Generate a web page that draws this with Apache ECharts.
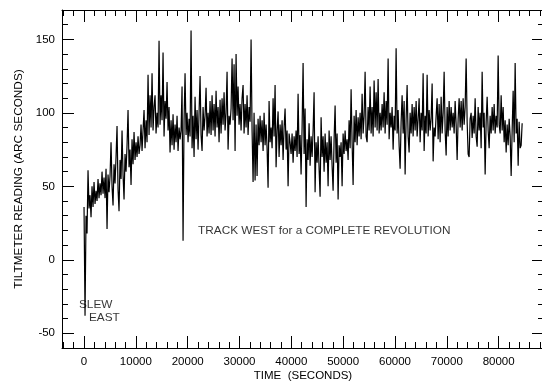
<!DOCTYPE html>
<html>
<head>
<meta charset="utf-8">
<script src="https://cdn.jsdelivr.net/npm/echarts@6/dist/echarts.min.js"></script>
<style>
  html, body { margin: 0; padding: 0; background: #fff; }
  #chart { width: 542px; height: 383px; }
</style>
</head>
<body>
<div id="chart"></div>
<script>
// tiltmeter readings (arc seconds), one every ~193 s from t = 0
var sampleStep = 193;
var tiltReadings = [
  36, -38, 30, 18, 61, 35,
  44, 29, 50, 36, 53, 38, 47, 40, 55, 42, 52,
  44, 60, 45, 56, 42, 62, 21, 58, 46, 57,
  80, 50, 37, 65, 52, 70, 91, 48, 33, 68,
  55, 88, 58, 41, 72, 60, 78, 102, 63, 75,
  51, 82, 65, 87, 68, 80, 70, 84, 72, 78,
  92, 74, 88, 102, 76, 95, 80, 126, 85, 112,
  90, 127, 88, 104, 112, 86, 100, 90, 149, 92,
  112, 95, 141, 84, 108, 96, 121, 88, 104, 73,
  95, 78, 99, 75, 92, 80, 98, 74, 90, 82,
  88, 118, 13, 95, 127, 85, 100, 80, 96, 84,
  156, 76, 98, 70, 111, 82, 102, 75, 100, 125,
  85, 74, 104, 88, 98, 117, 84, 100, 86, 108,
  85, 112, 88, 106, 84, 115, 90, 104, 80, 109,
  86, 110, 92, 114, 88, 100, 128, 75, 98, 92,
  103, 137, 95, 133, 74, 140, 98, 118, 92, 106,
  88, 110, 119, 86, 106, 90, 112, 85, 104, 94,
  150, 88, 53, 100, 54, 92, 57, 96, 78, 98,
  80, 95, 74, 100, 78, 92, 76, 49, 108, 80,
  90, 76, 110, 84, 119, 63, 88, 101, 70, 92,
  78, 95, 68, 90, 103, 75, 88, 50, 86, 80,
  72, 86, 66, 84, 74, 88, 70, 113, 72, 85,
  58, 90, 134, 72, 103, 36, 82, 68, 93, 64,
  84, 70, 88, 114, 46, 80, 66, 84, 62, 43,
  97, 70, 84, 60, 86, 66, 80, 50, 88, 68,
  84, 64, 47, 82, 105, 66, 86, 41, 78, 70,
  80, 50, 86, 72, 88, 74, 82, 68, 95, 76,
  116, 80, 51, 98, 80, 102, 78, 97, 84, 100,
  82, 113, 86, 98, 128, 84, 80, 104, 88, 118,
  86, 104, 84, 122, 90, 114, 88, 123, 86, 100,
  88, 106, 90, 114, 86, 108, 92, 137, 82, 100,
  90, 104, 75, 98, 88, 144, 86, 102, 78, 62,
  94, 112, 86, 108, 58, 96, 119, 84, 73, 100,
  86, 106, 84, 104, 88, 108, 84, 96, 110, 80,
  100, 88, 127, 74, 98, 86, 126, 84, 102, 88,
  96, 120, 67, 90, 84, 98, 110, 82, 106, 80,
  111, 86, 100, 128, 88, 71, 104, 84, 108, 88,
  104, 90, 100, 86, 108, 92, 68, 96, 110, 90,
  108, 88, 110, 92, 104, 137, 94, 72, 70, 96,
  100, 83, 98, 86, 110, 84, 77, 104, 88, 100,
  76, 128, 90, 100, 58, 94, 111, 88, 76, 98,
  86, 104, 88, 106, 86, 98, 90, 139, 92, 86,
  112, 88, 104, 80, 95, 73, 92, 78, 96, 84,
  57, 88, 115, 80, 134, 86, 96, 64, 94, 76, 78, 93
];

var xTickLabels = [0, 10000, 20000, 30000, 40000, 50000, 60000, 70000, 80000];
var yTickLabels = [-50, 0, 50, 100, 150];
var noteTexts = ["SLEW", "EAST", "TRACK WEST for a COMPLETE REVOLUTION"];
// where each note starts, in data units (time, reading)
var noteAnchors = [[-970, -30.7], [960, -39.6], [22000, 19.6]];

// layout
var plot = { left: 62, top: 10, width: 482, height: 338 };
var xRange = [-4250, 88750];
var yRange = [-60, 170];
function px(t) { return plot.left + (t - xRange[0]) / (xRange[1] - xRange[0]) * plot.width; }
function py(v) { return plot.top + (yRange[1] - v) / (yRange[1] - yRange[0]) * plot.height; }

var font = "Liberation Sans";
var black = "#000";

var seriesData = tiltReadings.map(function (v, i) { return [i * sampleStep, v]; });
var noteData = noteTexts.map(function (s, i) {
  return { name: s, value: noteAnchors[i] };
});

var xMinorMin = -4000, xMinorMax = 88000;
var xMaj0 = xTickLabels[0], xMaj1 = xTickLabels[xTickLabels.length - 1];
var yMaj0 = yTickLabels[0], yMaj1 = yTickLabels[yTickLabels.length - 1];

function lineAxis(extra) {
  var base = {
    type: "value",
    axisLine: { show: true, onZero: false, lineStyle: { color: black, width: 1 } },
    axisTick: { show: false },
    axisLabel: { show: false },
    splitLine: { show: false }
  };
  return Object.assign(base, extra);
}
function tickAxis(len, extra) {
  var base = {
    type: "value",
    axisLine: { show: false, onZero: false },
    axisTick: { show: true, inside: true, length: len, lineStyle: { color: black, width: 1 } },
    axisLabel: { show: false },
    splitLine: { show: false }
  };
  return Object.assign(base, extra);
}

var chart = echarts.init(document.getElementById("chart"), null, { renderer: "canvas" });
chart.setOption({
  animation: false,
  backgroundColor: "#fff",
  textStyle: { fontFamily: font, color: black },
  grid: [
    // frame and data
    { left: plot.left, top: plot.top, width: plot.width, height: plot.height, outerBoundsMode: "none" },
    // minor x ticks
    { left: px(xMinorMin), top: plot.top, width: px(xMinorMax) - px(xMinorMin), height: plot.height, outerBoundsMode: "none" },
    // major x ticks
    { left: px(xMaj0), top: plot.top, width: px(xMaj1) - px(xMaj0), height: plot.height, outerBoundsMode: "none" },
    // major y ticks
    { left: plot.left, top: py(yMaj1), width: plot.width, height: py(yMaj0) - py(yMaj1), outerBoundsMode: "none" }
  ],
  xAxis: [
    lineAxis({ gridIndex: 0, position: "bottom", min: xRange[0], max: xRange[1],
      name: "TIME  (SECONDS)", nameLocation: "middle", nameGap: 22,
      nameTextStyle: { fontFamily: font, fontSize: 11.5, color: black } }),
    lineAxis({ gridIndex: 0, position: "top", min: xRange[0], max: xRange[1] }),
    tickAxis(6, { gridIndex: 1, position: "bottom", min: xMinorMin, max: xMinorMax, interval: 2000 }),
    tickAxis(6, { gridIndex: 1, position: "top", min: xMinorMin, max: xMinorMax, interval: 2000 }),
    tickAxis(12, { gridIndex: 2, position: "bottom", min: xMaj0, max: xMaj1, interval: 10000,
      axisLabel: { show: true, margin: 8, fontFamily: font, fontSize: 11.5, color: black,
        formatter: function (v) { return String(v); } } }),
    tickAxis(12, { gridIndex: 2, position: "top", min: xMaj0, max: xMaj1, interval: 10000 }),
    { type: "value", gridIndex: 3, show: false, min: 0, max: 1 }
  ],
  yAxis: [
    lineAxis({ gridIndex: 0, position: "left", min: yRange[0], max: yRange[1], interval: 10,
      axisTick: { show: true, inside: true, length: 6, lineStyle: { color: black, width: 1 } },
      name: "TILTMETER READING (ARC SECONDS)", nameLocation: "middle", nameGap: 37,
      nameTextStyle: { fontFamily: font, fontSize: 11.8, color: black } }),
    lineAxis({ gridIndex: 0, position: "right", min: yRange[0], max: yRange[1], interval: 10,
      axisTick: { show: true, inside: true, length: 6, lineStyle: { color: black, width: 1 } } }),
    { type: "value", gridIndex: 1, show: false, min: 0, max: 1 },
    { type: "value", gridIndex: 2, show: false, min: 0, max: 1 },
    tickAxis(12, { gridIndex: 3, position: "left", min: yMaj0, max: yMaj1, interval: 50,
      axisLabel: { show: true, margin: 7, fontFamily: font, fontSize: 11.5, color: black } }),
    tickAxis(12, { gridIndex: 3, position: "right", min: yMaj0, max: yMaj1, interval: 50 })
  ],
  series: [
    {
      type: "line",
      xAxisIndex: 0,
      yAxisIndex: 0,
      data: seriesData,
      showSymbol: false,
      symbol: "none",
      sampling: null,
      lineStyle: { color: black, width: 1.2 },
      emphasis: { disabled: true },
      z: 3
    },
    {
      type: "scatter",
      xAxisIndex: 0,
      yAxisIndex: 0,
      data: noteData,
      symbolSize: 0,
      itemStyle: { color: "rgba(0,0,0,0)" },
      label: {
        show: true,
        position: "right",
        distance: 0,
        fontFamily: font,
        fontSize: 11.8,
        color: black,
        formatter: function (p) { return p.name; }
      },
      emphasis: { disabled: true },
      z: 4
    }
  ]
});
</script>
</body>
</html>
